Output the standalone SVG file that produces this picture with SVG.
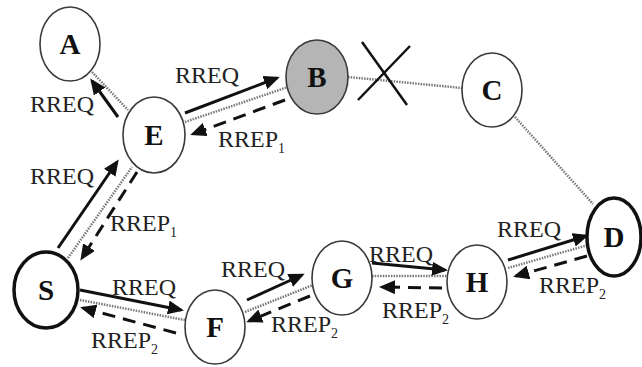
<svg xmlns="http://www.w3.org/2000/svg" width="642" height="367" viewBox="0 0 642 367">
<style>
.node{fill:#fff;stroke:#3a3a3a;stroke-width:1.6}
.thick{stroke:#111;stroke-width:3.5}
.nl{font-family:"Liberation Serif",serif;font-size:29px;font-weight:bold;fill:#111;text-anchor:middle}
.lbl{font-family:"Liberation Serif",serif;font-size:24px;fill:#222}
.sub{font-size:14px}
.link{stroke:#777;stroke-width:2.5;stroke-dasharray:1.5 1.2;fill:none}
.req{stroke:#111;stroke-width:3;fill:none;marker-end:url(#ah)}
.rep{stroke:#111;stroke-width:3;fill:none;stroke-dasharray:13 8;marker-end:url(#ah)}
</style>
<defs>
<marker id="ah" markerUnits="userSpaceOnUse" markerWidth="16" markerHeight="14" refX="13" refY="7" orient="auto">
<path d="M0,0 L16,7 L0,14 z" fill="#111"/>
</marker>
</defs>
<rect width="642" height="367" fill="#fff"/>
<g id="connectors">
<line class="link" x1="92" y1="72" x2="128" y2="110"/>
<line class="link" x1="185" y1="122" x2="288" y2="87"/>
<line class="link" x1="348" y1="77" x2="462" y2="88"/>
<line class="link" x1="515" y1="117" x2="593" y2="204"/>
<line class="link" x1="68" y1="258" x2="132" y2="167"/>
<line class="link" x1="80" y1="300" x2="185" y2="320"/>
<line class="link" x1="245" y1="312" x2="313" y2="285"/>
<line class="link" x1="372" y1="276" x2="447" y2="276"/>
<line class="link" x1="508" y1="268" x2="588" y2="245"/>
<line class="req" x1="118" y1="117" x2="92" y2="81"/>
<line class="req" x1="185" y1="113" x2="277" y2="78"/>
<line class="rep" x1="285" y1="100" x2="193" y2="134"/>
<line class="req" x1="58" y1="248" x2="117" y2="162"/>
<line class="rep" x1="137" y1="172" x2="82" y2="258"/>
<line class="req" x1="80" y1="290" x2="181" y2="310"/>
<line class="rep" x1="176" y1="333" x2="83" y2="308"/>
<line class="req" x1="247" y1="300" x2="302" y2="275"/>
<line class="rep" x1="310" y1="296" x2="249" y2="321"/>
<line class="req" x1="372" y1="263" x2="445" y2="270"/>
<line class="rep" x1="442" y1="288" x2="382" y2="287"/>
<line class="req" x1="508" y1="260" x2="586" y2="236"/>
<line class="rep" x1="587" y1="256" x2="516" y2="276"/>
<line x1="362" y1="42" x2="407" y2="105" stroke="#111" stroke-width="2.5"/>
<line x1="410" y1="46" x2="358" y2="100" stroke="#111" stroke-width="2.5"/>
</g>
<g id="labels">
<text class="lbl" x="30" y="112">RREQ</text>
<text class="lbl" x="175" y="83">RREQ</text>
<text class="lbl" x="218" y="147">RREP<tspan class="sub" dy="6">1</tspan></text>
<text class="lbl" x="30" y="184">RREQ</text>
<text class="lbl" x="110" y="231">RREP<tspan class="sub" dy="6">1</tspan></text>
<text class="lbl" x="112" y="295">RREQ</text>
<text class="lbl" x="91" y="348">RREP<tspan class="sub" dy="6">2</tspan></text>
<text class="lbl" x="221" y="277">RREQ</text>
<text class="lbl" x="271" y="332">RREP<tspan class="sub" dy="6">2</tspan></text>
<text class="lbl" x="369" y="262">RREQ</text>
<text class="lbl" x="382" y="318">RREP<tspan class="sub" dy="6">2</tspan></text>
<text class="lbl" x="497" y="237">RREQ</text>
<text class="lbl" x="539" y="293">RREP<tspan class="sub" dy="6">2</tspan></text>
</g>
<g id="node-A"><ellipse class="node" cx="70" cy="44" rx="30" ry="37"/><text class="nl" x="70" y="54">A</text></g>
<g id="node-E"><ellipse class="node" cx="154" cy="135" rx="31" ry="38"/><text class="nl" x="154" y="145">E</text></g>
<g id="node-B"><ellipse class="node" cx="317" cy="77" rx="31" ry="37" style="fill:#b5b5b5"/><text class="nl" x="317" y="87">B</text></g>
<g id="node-C"><ellipse class="node" cx="492" cy="90" rx="30" ry="37"/><text class="nl" x="492" y="100">C</text></g>
<g id="node-D"><ellipse class="node thick" cx="614" cy="237" rx="27" ry="39"/><text class="nl" x="614" y="247">D</text></g>
<g id="node-S"><ellipse class="node thick" cx="46" cy="290" rx="32" ry="38"/><text class="nl" x="46" y="300">S</text></g>
<g id="node-F"><ellipse class="node" cx="215" cy="327" rx="30" ry="37"/><text class="nl" x="215" y="337">F</text></g>
<g id="node-G"><ellipse class="node" cx="342" cy="278" rx="30" ry="37"/><text class="nl" x="342" y="288">G</text></g>
<g id="node-H"><ellipse class="node" cx="477" cy="282" rx="30" ry="37"/><text class="nl" x="477" y="292">H</text></g>
</svg>
